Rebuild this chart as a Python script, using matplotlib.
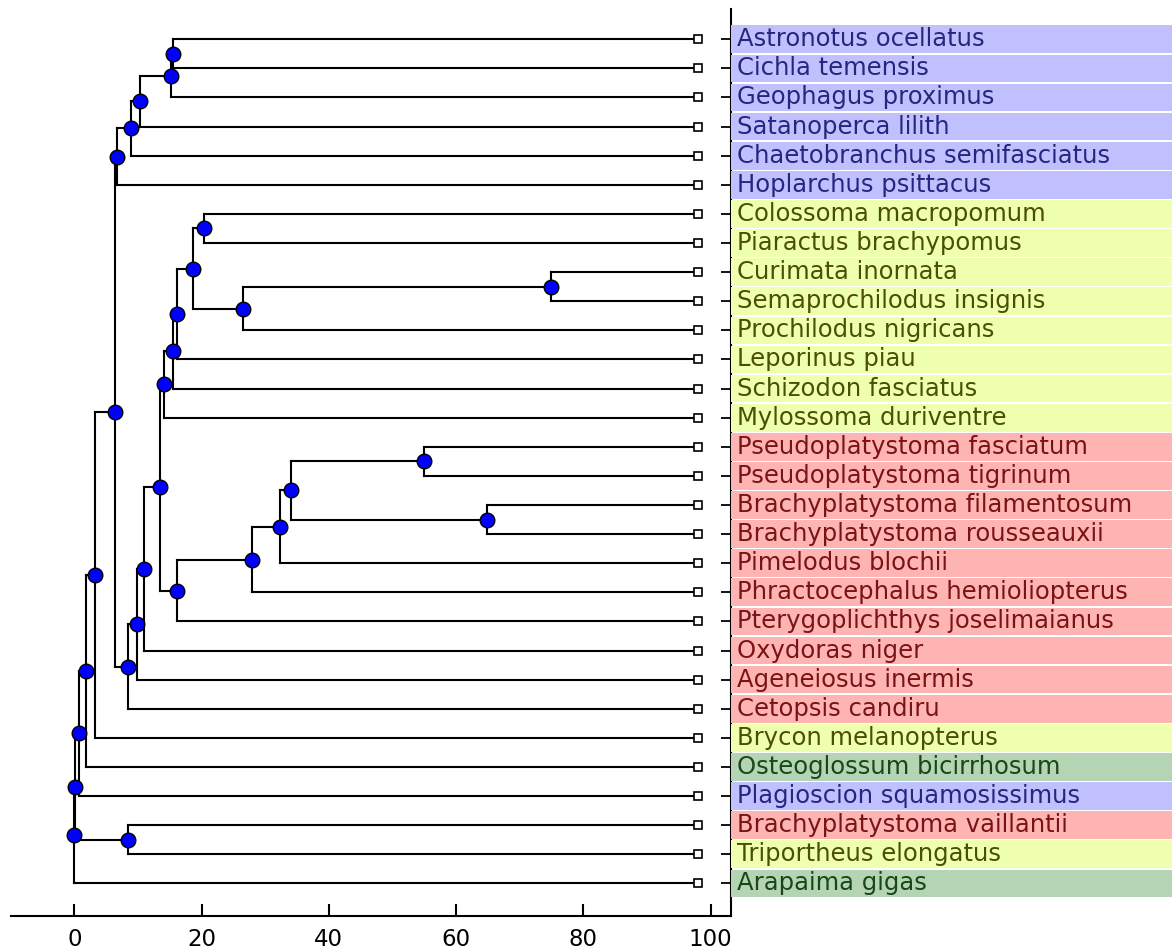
"""Dendrogram of Amazon fish species with coloured group bands on the right."""

import numpy as np
import matplotlib.pyplot as plt

# leaves, top to bottom
LEAVES = [
    "Astronotus ocellatus", "Cichla temensis", "Geophagus proximus",
    "Satanoperca lilith", "Chaetobranchus semifasciatus", "Hoplarchus psittacus",
    "Colossoma macropomum", "Piaractus brachypomus", "Curimata inornata",
    "Semaprochilodus insignis", "Prochilodus nigricans", "Leporinus piau",
    "Schizodon fasciatus", "Mylossoma duriventre", "Pseudoplatystoma fasciatum",
    "Pseudoplatystoma tigrinum", "Brachyplatystoma filamentosum",
    "Brachyplatystoma rousseauxii", "Pimelodus blochii",
    "Phractocephalus hemioliopterus", "Pterygoplichthys joselimaianus",
    "Oxydoras niger", "Ageneiosus inermis", "Cetopsis candiru",
    "Brycon melanopterus", "Osteoglossum bicirrhosum",
    "Plagioscion squamosissimus", "Brachyplatystoma vaillantii",
    "Triportheus elongatus", "Arapaima gigas",
]
LEAF_GROUP = [
    "blue", "blue", "blue", "blue", "blue", "blue",
    "yellow", "yellow", "yellow", "yellow", "yellow", "yellow", "yellow", "yellow",
    "red", "red", "red", "red", "red", "red", "red", "red", "red", "red",
    "yellow", "green", "blue", "red", "yellow", "green",
]
LEAF_HEIGHT = 98.0

# internal nodes: children index (0-29 leaves, 30+k = node k) and merge height
NODE_LEFT = [0, 30, 31, 32, 33, 6, 8, 36, 35, 38, 39, 40, 14, 16, 42, 44, 45, 46,
             41, 48, 49, 50, 34, 52, 53, 54, 27, 55, 57]
NODE_RIGHT = [1, 2, 3, 4, 5, 7, 9, 10, 37, 11, 12, 13, 15, 17, 43, 18, 19, 20,
              47, 21, 22, 23, 51, 24, 25, 26, 28, 56, 29]
NODE_HEIGHT = [15.5, 15.15, 10.3, 8.87, 6.72, 20.3, 74.9, 26.45, 18.6, 16.2, 15.5,
               14.1, 54.9, 64.8, 34.1, 32.4, 27.9, 16.2, 13.4, 10.96, 9.92, 8.5,
               6.36, 3.27, 1.8, 0.75, 8.5, 0.08, 0.0]

GROUP_FILL = {"blue": "#c0c0ff", "yellow": "#eeffb0", "red": "#ffb4b4", "green": "#b4d4b4"}
GROUP_TEXT = {"blue": "#262680", "yellow": "#4a5000", "red": "#7a1414", "green": "#184818"}

W, H = 1172, 952
fig = plt.figure(figsize=(W / 100, H / 100), dpi=100)
left, right, top, bottom = 10.7, 731, 9.3, 916
ax = fig.add_axes([left / W, 1 - bottom / H, (right - left) / W, (bottom - top) / H])
lab = fig.add_axes([right / W, 1 - bottom / H, (W - right) / W, (bottom - top) / H], sharey=ax)

# layout: node y is the mean of its children
n_leaf = len(LEAVES)
ys = list(np.arange(n_leaf, dtype=float))
hs = [LEAF_HEIGHT] * n_leaf
for l, r, h in zip(NODE_LEFT, NODE_RIGHT, NODE_HEIGHT):
    ys.append((ys[l] + ys[r]) / 2)
    hs.append(h)

for k, (l, r, h) in enumerate(zip(NODE_LEFT, NODE_RIGHT, NODE_HEIGHT)):
    ax.plot([h, h], [ys[l], ys[r]], color="black", lw=1.5, zorder=2)
    for c in (l, r):
        ax.plot([h, hs[c]], [ys[c], ys[c]], color="black", lw=1.5, zorder=2)

ax.plot([LEAF_HEIGHT] * n_leaf, ys[:n_leaf], "s", ms=5.5, mfc="white",
        mec="black", mew=1.2, zorder=3)
ax.plot(NODE_HEIGHT, ys[n_leaf:], "o", ms=10.5, mfc="#0000ff", mec="black",
        mew=1.0, zorder=4)

ax.set_xlim(-10, 103.2)
ax.set_ylim(30.12, -1.03)
ax.spines["top"].set_visible(False)
ax.spines["left"].set_visible(False)
ax.spines["bottom"].set_linewidth(1.5)
ax.spines["right"].set_linewidth(1.5)
ax.set_xticks([0, 20, 40, 60, 80, 100])
ax.tick_params(axis="x", direction="in", length=9, width=1.5, labelsize=16.5, pad=9)
ax.yaxis.tick_right()
ax.set_yticks(range(n_leaf))
ax.set_yticklabels([])
ax.tick_params(axis="y", direction="in", length=7.5, width=1.3)

# label bands
lab.barh(range(n_leaf), 1, left=0, height=0.95,
         color=[GROUP_FILL[g] for g in LEAF_GROUP], zorder=1)
for i, (name, g) in enumerate(zip(LEAVES, LEAF_GROUP)):
    lab.text(0.013, i, name, color=GROUP_TEXT[g], fontsize=17.5, va="center", ha="left")
lab.set_xlim(0, 1)
lab.axis("off")

fig.savefig("out.png", dpi=100)
